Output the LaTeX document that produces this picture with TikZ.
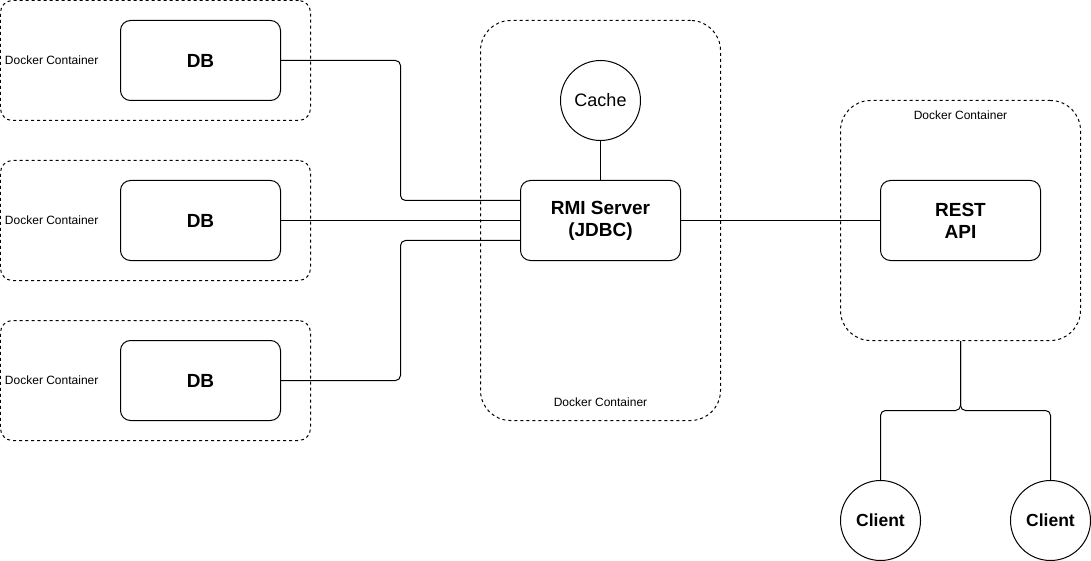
\documentclass[tikz,border=0pt]{standalone}
\usepackage{fontspec}
\setmainfont{Liberation Sans}
\begin{document}
\begin{tikzpicture}[x=1pt,y=-1pt,line width=1pt,
  container/.style={draw,dash pattern=on 3pt off 3pt,rounded corners=#1,inner sep=0pt},
  container/.default=12pt,
  service/.style={draw,rounded corners=10pt,minimum width=160pt,minimum height=80pt,
    inner sep=0pt,align=center,font=\fontsize{19}{22}\selectfont\bfseries},
  bubble/.style={draw,circle,minimum size=80pt,inner sep=0pt},
  tag/.style={font=\fontsize{12}{14}\selectfont,inner sep=0pt},
  link/.style={rounded corners=5pt}]
  \useasboundingbox (-0.5,-0.5) rectangle (1090.5,560.5);

  % database containers on the left
  \node[container,minimum width=310pt,minimum height=120pt] (dbbox1) at (155,60) {};
  \node[container,minimum width=310pt,minimum height=120pt] (dbbox2) at (155,220) {};
  \node[container,minimum width=310pt,minimum height=120pt] (dbbox3) at (155,380) {};
  \node[tag,anchor=west] (dbtag1) at (4,60) {Docker Container};
  \node[tag,anchor=west] (dbtag2) at (4,220) {Docker Container};
  \node[tag,anchor=west] (dbtag3) at (4,380) {Docker Container};
  \node[service] (db1) at (200,60) {DB};
  \node[service] (db2) at (200,220) {DB};
  \node[service] (db3) at (200,380) {DB};

  % rmi container in the middle
  \node[container=30pt,minimum width=240pt,minimum height=400pt] (rmibox) at (600,220) {};
  \node[tag] (rmitag) at (600,402) {Docker Container};
  \node[bubble,font=\fontsize{18}{21}\selectfont] (cache) at (600,100) {Cache};
  \node[service] (rmi) at (600,220) {RMI Server\\(JDBC)};

  % rest container on the right
  \node[container=30pt,minimum width=240pt,minimum height=240pt] (apibox) at (960,220) {};
  \node[tag] (apitag) at (960,115) {Docker Container};
  \node[service] (api) at (960,220) {REST\\API};

  % clients
  \node[bubble,font=\fontsize{17.5}{20}\selectfont\bfseries] (client1) at (880,520) {Client};
  \node[bubble,font=\fontsize{17.5}{20}\selectfont\bfseries] (client2) at (1050,520) {Client};

  % connections
  \coordinate (in1) at (520,200);
  \coordinate (in3) at (520,240);
  \draw[link] (db1.east) -| (400,200) -- (in1);
  \draw (db2.east) -- (rmi.west);
  \draw[link] (db3.east) -| (400,240) -- (in3);
  \draw (cache.south) -- (rmi.north);
  \draw (rmi.east) -- (api.west);
  \draw[link] (apibox.south) -- (960,410) -| (client1.north);
  \draw[link] (apibox.south) -- (960,410) -| (client2.north);
\end{tikzpicture}
\end{document}
